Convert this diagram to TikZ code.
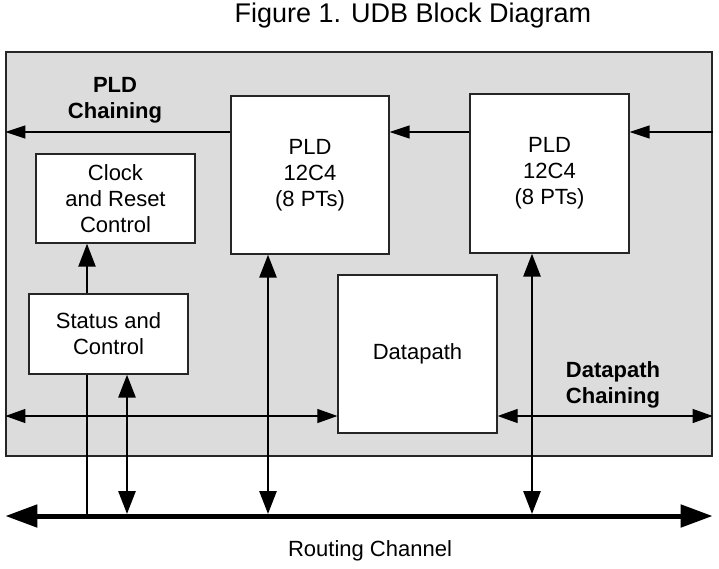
\documentclass[tikz,border=0pt]{standalone}
\usepackage{fontspec}
\setmainfont{Liberation Sans}
\usetikzlibrary{arrows.meta}
\begin{document}
\begin{tikzpicture}[x=1pt,y=-1pt,
  txt/.style={font=\fontsize{22}{26}\selectfont, align=center},
  blk/.style={draw=black!85, line width=1.3pt, fill=white, inner sep=0pt, txt},
  chainarrow/.style={line width=1.4pt, -{Triangle[length=20pt,width=13pt]}},
  dparrow/.style={line width=1.1pt, {Triangle[length=20pt,width=14pt]}-{Triangle[length=20pt,width=14pt]}},
  vdouble/.style={line width=2.8pt, {Triangle[length=23pt,width=17pt]}-{Triangle[length=23pt,width=17pt]}},
  upone/.style={line width=2.3pt, -{Triangle[length=23pt,width=17pt]}},
  busarrow/.style={line width=5pt, {Triangle[length=32pt,width=22pt]}-{Triangle[length=32pt,width=22pt]}}
]
\useasboundingbox (0,0) rectangle (719,568);
\definecolor{udbgray}{RGB}{220,220,220}

\node (title) at (413,16) {\fontsize{27}{32}\selectfont Figure 1. UDB Block Diagram};

\node[draw=black!85, line width=1.3pt, fill=udbgray, minimum width=706pt, minimum height=404pt, inner sep=0pt] (udb) at (359,254) {};

\coordinate (chain) at (0,132);
\coordinate (dch) at (0,416);
\coordinate (bus) at (0,516);
\coordinate (c1) at (87,0);
\coordinate (c2) at (127,0);
\coordinate (c3) at (268,0);
\coordinate (c4) at (532,0);

\node[blk, minimum width=158pt, minimum height=158pt] (pld1) at (310,175) {PLD\\12C4\\(8 PTs)};
\node[blk, minimum width=159pt, minimum height=159pt] (pld2) at (549.5,173.5) {PLD\\12C4\\(8 PTs)};
\node[blk, minimum width=159pt, minimum height=89pt] (clock) at (115.5,198.5) {Clock\\and Reset\\Control};
\node[blk, minimum width=159pt, minimum height=80pt] (status) at (108.5,334) {Status and\\Control};
\node[blk, minimum width=159pt, minimum height=158pt] (dp) at (417.5,354) {Datapath};

\node[txt, font=\fontsize{22}{26}\selectfont\bfseries] (pldch) at (115,100) {PLD\\Chaining};
\node[txt, font=\fontsize{22}{26}\selectfont\bfseries] (dpch) at (613,385) {Datapath\\Chaining};

\draw[chainarrow] (udb.east |- chain) -- (pld2.east |- chain);
\draw[chainarrow] (pld2.west |- chain) -- (pld1.east |- chain);
\draw[chainarrow] (pld1.west |- chain) -- (udb.west |- chain);

\draw[dparrow] (udb.west |- dch) -- (dp.west |- dch);
\draw[dparrow] (dp.east |- dch) -- (udb.east |- dch);

\draw[upone] (status.north -| c1) -- (clock.south -| c1);
\draw[line width=2.3pt] (status.south -| c1) -- (bus -| c1);
\draw[vdouble, shorten >=2pt] (status.south -| c2) -- (bus -| c2);
\draw[vdouble, shorten >=2pt] (pld1.south -| c3) -- (bus -| c3);
\draw[vdouble, shorten >=2pt] (pld2.south -| c4) -- (bus -| c4);

\draw[busarrow] (udb.west |- bus) -- (udb.east |- bus);

\node[txt] (routing) at (370,551) {Routing Channel};
\end{tikzpicture}
\end{document}
